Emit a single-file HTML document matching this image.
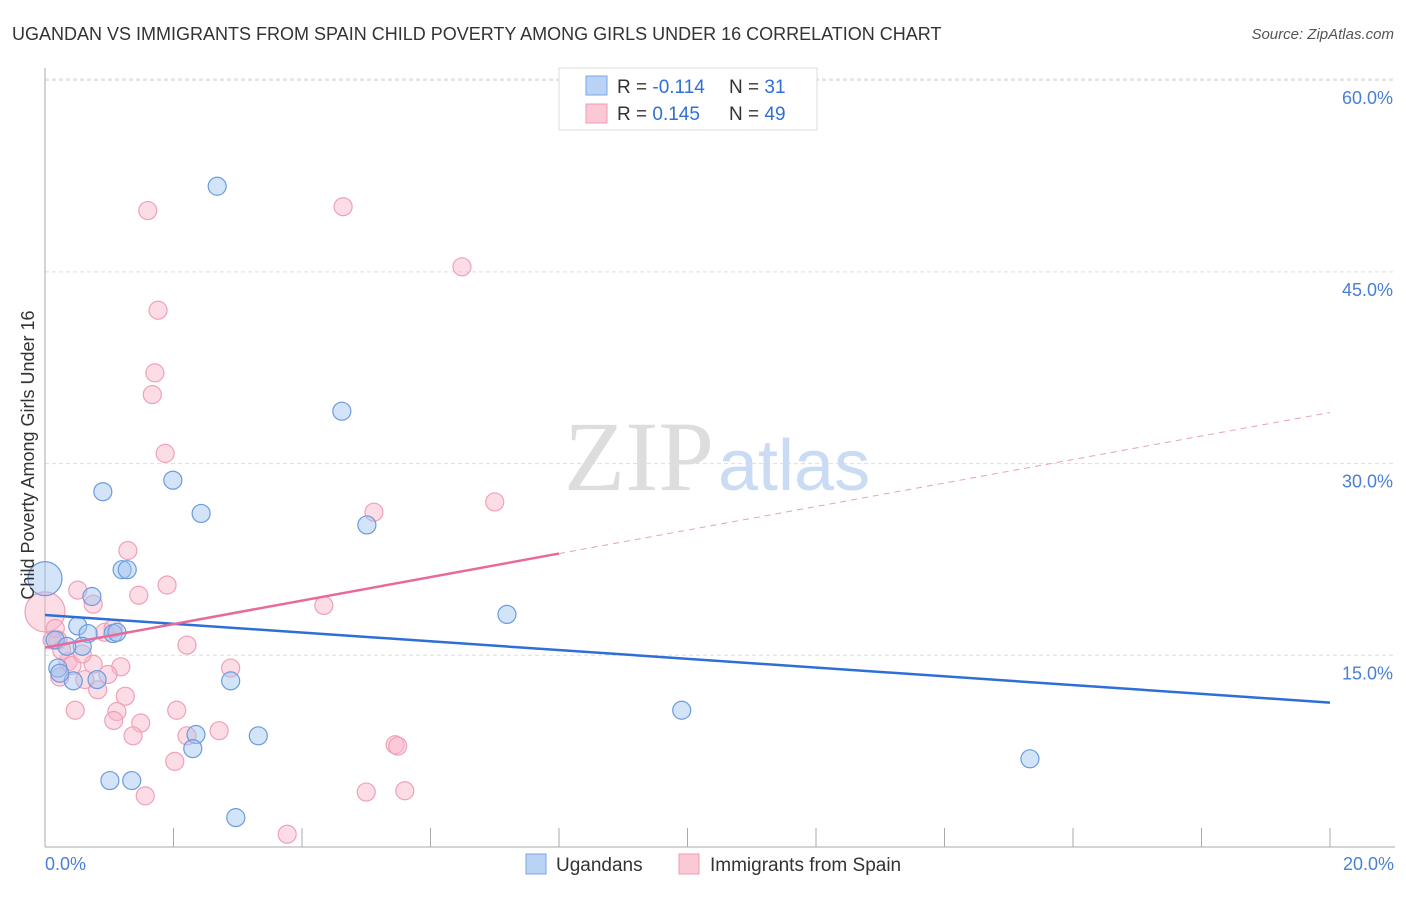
<!DOCTYPE html>
<html><head><meta charset="utf-8"><style>
body{margin:0;background:#fff;font-family:"Liberation Sans",sans-serif;}
svg text{font-family:"Liberation Sans",sans-serif;}
</style></head><body>
<svg width="1406" height="892" xmlns="http://www.w3.org/2000/svg">
<text x="12" y="40" font-size="18" fill="#333">UGANDAN VS IMMIGRANTS FROM SPAIN CHILD POVERTY AMONG GIRLS UNDER 16 CORRELATION CHART</text>
<text x="1394" y="39" font-size="15" fill="#555" font-style="italic" text-anchor="end">Source: ZipAtlas.com</text>
<g id="grid"></g>
<text x="714" y="490" font-size="100" fill="#ddd" text-anchor="end" style="font-family:'Liberation Serif',serif">ZIP</text>
<text x="718" y="490" font-size="72" fill="#c9dcf3">atlas</text>
<g id="marks"></g>
<text x="34" y="455" font-size="18" fill="#333" text-anchor="middle" transform="rotate(-90 34 455)">Child Poverty Among Girls Under 16</text>
<text x="45" y="870" font-size="18" fill="#4a7fd4">0.0%</text>
<text x="1394" y="870" font-size="18" fill="#4a7fd4" text-anchor="end">20.0%</text>
<g>
<rect x="559" y="68" width="258" height="62" fill="#fff" stroke="#ddd"/>
<rect x="586" y="76" width="21" height="19" fill="#b9d3f5" stroke="#7aa6e6"/>
<rect x="586" y="104" width="21" height="19" fill="#fbc8d6" stroke="#f09ab4"/>
<text x="617" y="93" font-size="19" fill="#333">R = <tspan fill="#2f6fd6">-0.114</tspan></text>
<text x="729" y="93" font-size="19" fill="#333">N = <tspan fill="#2f6fd6"> 31</tspan></text>
<text x="617" y="120" font-size="19" fill="#333">R = <tspan fill="#2f6fd6"> 0.145</tspan></text>
<text x="729" y="120" font-size="19" fill="#333">N = <tspan fill="#2f6fd6">49</tspan></text>
</g>
<g>
<rect x="526" y="854" width="20" height="20" fill="#b9d3f5" stroke="#7aa6e6"/>
<text x="556" y="871" font-size="19" fill="#333">Ugandans</text>
<rect x="679" y="854" width="20" height="20" fill="#fbc8d6" stroke="#f09ab4"/>
<text x="710" y="871" font-size="19" fill="#333">Immigrants from Spain</text>
</g>
</svg>
<script>
const yTicks=[15,30,45,60];
const yTickLabels=["15.0%","30.0%","45.0%","60.0%"];
const xTicks=[0,2,4,6,8,10,12,14,16,18,20];
const blueX=[2.68,4.62,0.90,1.99,2.43,5.01,0.0,1.20,1.28,0.73,7.19,0.16,0.51,0.67,1.06,1.12,0.58,0.34,0.20,0.44,0.81,2.89,9.91,2.35,3.32,2.30,1.01,1.35,15.33,2.97,0.23];
const blueY=[51.7,34.1,27.8,28.7,26.1,25.2,21.0,21.7,21.7,19.6,18.2,16.2,17.3,16.7,16.7,16.8,15.7,15.7,14.0,13.0,13.1,13.0,10.7,8.8,8.7,7.7,5.2,5.2,6.9,2.3,13.6];
const pinkX=[1.60,4.64,6.49,1.76,1.71,1.67,1.87,7.00,5.12,1.29,1.90,0.51,1.46,0.75,4.34,0.0,0.16,0.20,0.93,1.06,2.21,0.36,0.42,0.75,1.18,0.98,0.23,0.82,1.25,2.89,0.47,1.12,2.05,1.07,1.49,1.37,2.21,2.71,5.45,5.49,2.02,1.56,5.00,5.60,3.77,0.11,0.26,0.58,0.62];
const pinkY=[49.8,50.1,45.4,42.0,37.1,35.4,30.8,27.0,26.2,23.2,20.5,20.1,19.7,19.0,18.9,18.4,17.1,16.2,16.8,17.1,15.8,14.5,14.2,14.3,14.1,13.5,13.3,12.3,11.8,14.0,10.7,10.6,10.7,9.9,9.7,8.7,8.7,9.1,8.0,7.9,6.7,4.0,4.3,4.4,1.0,16.2,15.4,15.1,13.1];
const blueTrend=[18.15,11.3];
const pinkTrend=[15.6,34.0];
const pinkSolidEnd=8;
const X=v=>45+v*64.25, Y=v=>847-v*12.78;
const NS="http://www.w3.org/2000/svg";
function mk(t,a,p){const e=document.createElementNS(NS,t);for(const k in a)e.setAttribute(k,a[k]);p.appendChild(e);return e;}
const gg=document.getElementById('grid'), mm=document.getElementById('marks');
yTicks.forEach((t,i)=>{
 const l=mk('line',{x1:45,x2:1395,y1:Y(t),y2:Y(t),stroke:'#ddd','stroke-dasharray':'4,3'},gg);
 
 
 const tx=mk('text',{x:1393,y:Y(t)+24,'font-size':18,fill:'#4a7fd4','text-anchor':'end'},gg);
 tx.textContent=yTickLabels[i];
 
 
});
const topGrid=mk('line',{x1:45,x2:1395,y1:79,y2:79,stroke:'#ddd','stroke-dasharray':'4,3'},gg);


const ax=mk('line',{x1:45,x2:45,y1:68,y2:847,stroke:'#aaa'},gg);


const bx=mk('line',{x1:45,x2:1395,y1:847,y2:847,stroke:'#aaa'},gg);


xTicks.forEach(t=>{
 const l=mk('line',{x1:X(t),x2:X(t),y1:828,y2:847,stroke:'#aaa'},gg);
 
 
});
function dots(xs,ys,fill,stroke,name){
 xs.forEach((x,i)=>{
  const big=(x===0);
  const c=mk('circle',{cx:X(x),cy:Y(ys[i]),r:big?(name==='pink-point'?20:17):9,fill:fill,stroke:stroke,'stroke-width':1.2},mm);
  
  
 });
}
dots(pinkX,pinkY,'rgba(248,180,200,0.45)','#f0a0b8','pink-point');
dots(blueX,blueY,'rgba(160,195,240,0.45)','#6a9be0','blue-point');
const bt=mk('line',{x1:X(0),y1:Y(blueTrend[0]),x2:X(20),y2:Y(blueTrend[1]),stroke:'#2e6fd6','stroke-width':2.5},mm);


const pm=pinkTrend[0]+(pinkTrend[1]-pinkTrend[0])*pinkSolidEnd/20;
const pt=mk('line',{x1:X(0),y1:Y(pinkTrend[0]),x2:X(pinkSolidEnd),y2:Y(pm),stroke:'#e8699a','stroke-width':2.5},mm);


const pd=mk('line',{x1:X(pinkSolidEnd),y1:Y(pm),x2:X(20),y2:Y(pinkTrend[1]),stroke:'#e8a0b8','stroke-width':1,'stroke-dasharray':'6,5'},mm);


</script>
</body></html>
